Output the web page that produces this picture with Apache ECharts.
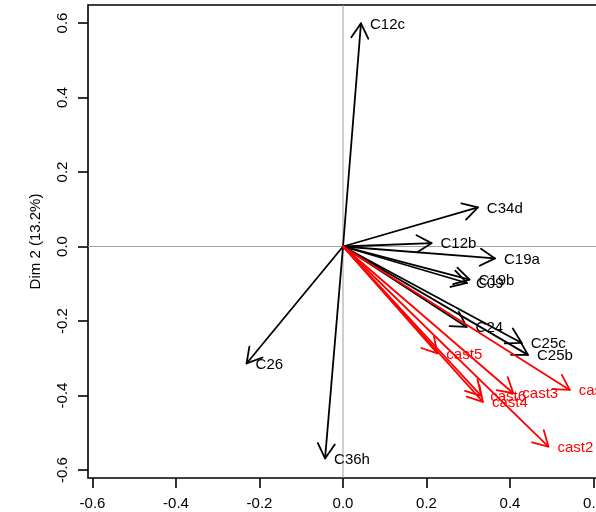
<!DOCTYPE html>
<html><head><meta charset="utf-8">
<script src="https://cdn.jsdelivr.net/npm/echarts@6/dist/echarts.min.js"></script>
<style>html,body{margin:0;padding:0;background:#fff}#c{width:596px;height:512px}</style>
</head><body><div id="c"></div>
<script>
// ---- data ----
const varNames = ['C12c','C34d','C12b','C19a','C19b','C09','C24','C25c','C25b','C26','C36h'];
const varDim1  = [0.043, 0.323, 0.212, 0.364, 0.303, 0.297, 0.296, 0.428, 0.443, -0.231, -0.043];
const varDim2  = [0.599, 0.105, 0.009, -0.032, -0.089, -0.098, -0.216, -0.259, -0.291, -0.314, -0.569];
const castNames = ['cast1','cast2','cast3','cast4','cast5','cast6'];
const castDim1  = [0.543, 0.492, 0.408, 0.335, 0.226, 0.331];
const castDim2  = [-0.385, -0.537, -0.394, -0.417, -0.287, -0.401];
const xTicks = [-0.6, -0.4, -0.2, 0.0, 0.2, 0.4, 0.6];
const yTicks = [-0.6, -0.4, -0.2, 0.0, 0.2, 0.4, 0.6];
const yAxisTitle = 'Dim 2 (13.2%)';
const xRange = [-0.6108, 0.65];
const yRange = [-0.6215, 0.6483];

const FONT = '"Liberation Sans", Arial, Helvetica, sans-serif';

function arrowRenderer(names, color) {
  return function (params, api) {
    const o = api.coord([0, 0]);
    const t = api.coord([api.value(0), api.value(1)]);
    const ang = Math.atan2(t[1] - o[1], t[0] - o[0]);
    const L = 17, a = Math.PI / 6;
    const h1 = [t[0] - L * Math.cos(ang - a), t[1] - L * Math.sin(ang - a)];
    const h2 = [t[0] - L * Math.cos(ang + a), t[1] - L * Math.sin(ang + a)];
    const st = {stroke: color, lineWidth: 1.8, fill: 'none', lineCap: 'round', lineJoin: 'round'};
    return {
      type: 'group',
      children: [
        {type: 'line', shape: {x1: o[0], y1: o[1], x2: t[0], y2: t[1]}, style: st},
        {type: 'polyline', shape: {points: [h1, t, h2]}, style: st},
        {type: 'text', x: t[0] + 9, y: t[1] + 1,
         style: {text: names[params.dataIndex], fill: color, fontSize: 15, fontFamily: FONT,
                 align: 'left', verticalAlign: 'middle'}}
      ]
    };
  };
}

const chart = echarts.init(document.getElementById('c'), null, {renderer: 'canvas'});
chart.setOption({
  backgroundColor: '#fff',
  animation: false,
  grid: {left: 88, top: 5, width: 526.4, height: 473, show: true, outerBoundsMode: 'none',
         containLabel: false,
         borderColor: '#000', borderWidth: 1.6, backgroundColor: 'transparent'},
  xAxis: {
    type: 'value', min: xRange[0], max: xRange[1],
    axisLine: {show: false, onZero: false},
    splitLine: {show: false},
    axisTick: {show: true, customValues: xTicks, length: 10, lineStyle: {color: '#000', width: 1.6}},
    axisLabel: {customValues: xTicks, formatter: v => v.toFixed(1), margin: 18,
                fontSize: 15, fontFamily: FONT, color: '#000'}
  },
  yAxis: {
    type: 'value', min: yRange[0], max: yRange[1],
    name: yAxisTitle, nameLocation: 'middle', nameGap: 45,
    nameTextStyle: {fontSize: 15, fontFamily: FONT, color: '#000'},
    axisLine: {show: false, onZero: false},
    splitLine: {show: false},
    axisTick: {show: true, customValues: yTicks, length: 10, lineStyle: {color: '#000', width: 1.6}},
    axisLabel: {customValues: yTicks, formatter: v => v.toFixed(1), rotate: 90, margin: 18,
                fontSize: 15, fontFamily: FONT, color: '#000'}
  },
  series: [
    {type: 'line', data: [[0, yRange[0]], [0, yRange[1]]], symbol: 'none', silent: true,
     lineStyle: {color: '#a0a0a0', width: 1}, z: 1},
    {type: 'line', data: [[xRange[0], 0], [xRange[1], 0]], symbol: 'none', silent: true,
     lineStyle: {color: '#a0a0a0', width: 1}, z: 1},
    {type: 'custom', renderItem: arrowRenderer(varNames, '#000'), z: 2, silent: true,
     data: varDim1.map((x, i) => [x, varDim2[i]])},
    {type: 'custom', renderItem: arrowRenderer(castNames, '#ff0000'), z: 3, silent: true,
     data: castDim1.map((x, i) => [x, castDim2[i]])}
  ]
});
</script></body></html>
